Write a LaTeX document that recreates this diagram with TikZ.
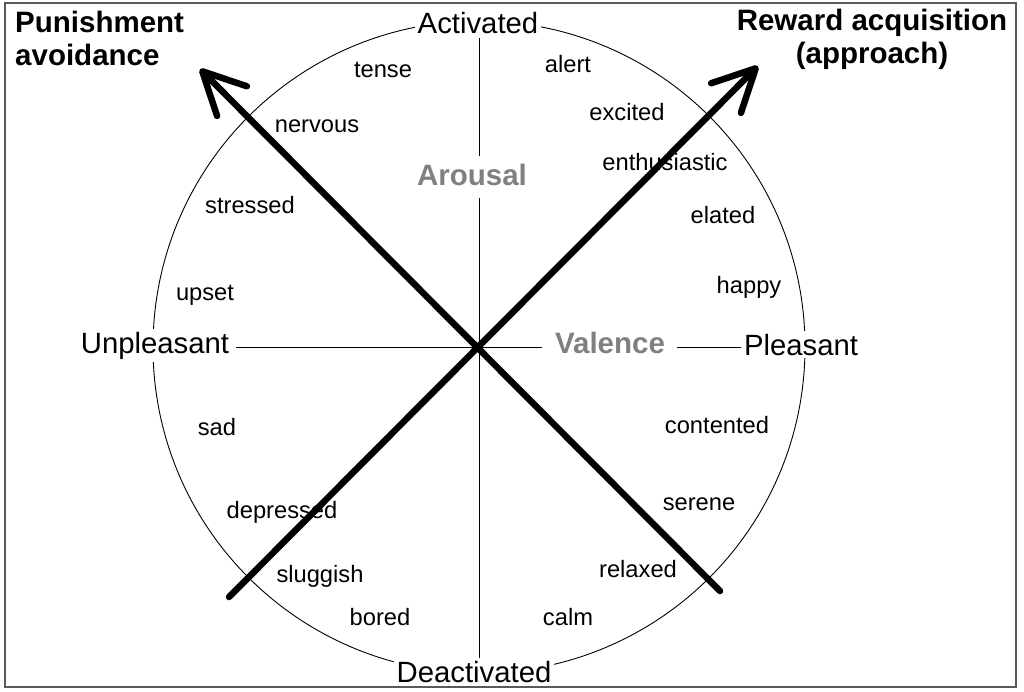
\documentclass[tikz,border=0pt]{standalone}
\usepackage{fontspec}
\setmainfont{Liberation Sans}
\usepackage{xcolor}
\definecolor{axisgray}{RGB}{128,128,128}
\definecolor{framegray}{RGB}{90,90,90}
\usepackage{tikz}
\usetikzlibrary{arrows.meta,calc}

\begin{document}
\begin{tikzpicture}[x=1pt,y=-1pt,
  word/.style={anchor=base,font=\fontsize{23.7}{28}\selectfont,inner sep=0pt},
  pole/.style={anchor=base,font=\fontsize{29.3}{33}\selectfont,fill=white,inner sep=3pt},
  dimlabel/.style={anchor=base,font=\fontsize{29.5}{33}\selectfont\bfseries,text=axisgray,inner sep=0pt},
  goal/.style={font=\fontsize{29.5}{33}\selectfont\bfseries,inner sep=0pt},
  axisline/.style={line width=1pt},
  motive/.style={line width=6.5pt,line cap=round,
    -{Straight Barb[length=42pt,width=42pt,line width=6.5pt,round]}}]
\useasboundingbox (0,0) rectangle (1024,691);
\coordinate (o) at (479,347);
\draw[line width=0.9pt] (o) circle[radius=326pt];
% poles of the two dimensions
\node[pole] (act) at (478,33) {Activated};
\node[pole] (deact) at (474,682) {Deactivated};
\node[pole] (unpl) at (155,353) {Unpleasant};
\node[pole] (pleas) at (801,355) {Pleasant};
\node[dimlabel] (arou) at (472,185) {Arousal};
\node[dimlabel] (val) at (610,353) {Valence};
\draw[axisline] ($(o |- act.south)+(0,2)$) -- ($(o |- arou.north)+(0,-7)$);
\draw[axisline] ($(o |- arou.south)+(0,13)$) -- (o |- deact.north);
\draw[axisline] ($(o -| unpl.east)+(4,0)$) -- ($(o -| val.west)+(-13,0)$);
\draw[axisline] ($(o -| val.east)+(12,0)$) -- (o -| pleas.west);
% affect words round the circle
\foreach \w/\x/\y in {tense/383/77, nervous/317/132, stressed/250/213,
    upset/205/300, sad/217/435, depressed/282/518, sluggish/320/582,
    bored/380/625, calm/568/625, relaxed/638/577, serene/699/510,
    contented/717/433, happy/749/293, elated/723/223, enthusiastic/665/170,
    excited/627/120, alert/568/72} {
  \node[word] (\w) at (\x,\y) {\w};
}
% motivational directions
\node[goal,anchor=north west,align=left] (punish) at (15,11) {Punishment\\avoidance};
\node[goal,anchor=north,align=center] (reward) at (872,9) {Reward acquisition\\(approach)};
\coordinate (pTail) at (720,591);
\coordinate (pTip) at (200,69);
\coordinate (rTail) at (229,597);
\coordinate (rTip) at (758,66);
\draw[motive] (pTail) -- (pTip);
\draw[motive] (rTail) -- (rTip);
\draw[framegray,line width=1.5pt] (5,3) rectangle (1016,687);
\end{tikzpicture}
\end{document}
